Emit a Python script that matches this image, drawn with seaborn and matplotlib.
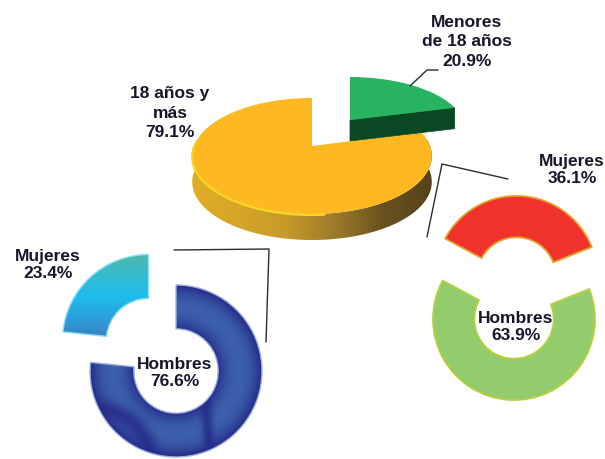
import numpy as np
import matplotlib
matplotlib.use('Agg')
import matplotlib.pyplot as plt
import matplotlib.transforms as mtransforms
from matplotlib.colors import LinearSegmentedColormap
from matplotlib.patches import Polygon
import seaborn as sns

# Values
age_labels = ['18 años y\nmás', 'Menores\nde 18 años']
age_values = [79.1, 20.9]
adult_labels = ['Hombres', 'Mujeres']
adult_values = [76.6, 23.4]
minor_labels = ['Hombres', 'Mujeres']
minor_values = [63.9, 36.1]

sns.set_style('white')
plt.rcParams['font.family'] = ['Liberation Sans', 'DejaVu Sans']

orange, green = sns.color_palette(['#FDB822', '#27B35F'])
TEXT = '#16162a'
LINE = '#2b2b2b'


class Projection(mtransforms.Transform):
    # unit pie -> picture pixels, p gives the perspective of the tilted disc
    input_dims = 2
    output_dims = 2

    def __init__(self, cx, cy, a, b, p=0.0):
        super().__init__()
        self.cx, self.cy, self.a, self.b, self.p = cx, cy, a, b, p

    def transform_non_affine(self, values):
        values = np.asarray(values, dtype=float)
        w = 1 + self.p * values[:, 1]
        return np.column_stack([self.cx + self.a * values[:, 0] / w,
                                self.cy - self.b * values[:, 1] / w])


def place(wedges, proj, zorder=1):
    for w in wedges:
        w.set_transform(proj + ax.transData)
        w.set_zorder(zorder)


def paint(artist_path, artist_transform, data, cmap, extent, zorder=0.5, vmin=0, vmax=1):
    im = ax.imshow(data, cmap=cmap, extent=extent, aspect='auto', origin='upper',
                   interpolation='bilinear', vmin=vmin, vmax=vmax, zorder=zorder)
    im.set_clip_path(artist_path, artist_transform)
    return im


fig = plt.figure(figsize=(6.05, 4.59), dpi=100)
ax = fig.add_axes([0, 0, 1, 1])

# Main 3D pie: side first, then the faces
main_proj = Projection(312, 146, 118, 56.3, 0.172)
end_angle = np.radians(90 + 3.6 * age_values[0])
t = np.radians(np.linspace(170, 370, 120))
rim = main_proj.transform(np.column_stack([np.cos(t), np.sin(t)]))
depth = 26
side = Polygon(np.vstack([rim, rim[::-1] + [0, depth]]), closed=True, transform=ax.transData,
               facecolor='none', edgecolor='none')
ax.add_patch(side)
side_cmap = LinearSegmentedColormap.from_list(
    'side', ['#E2AE26', '#D6A528', '#C69A2B', '#9C7C2A', '#6A5220', '#57431A'])
paint(side.get_path(), side.get_transform(), np.linspace(0, 1, 200)[None, :], side_cmap, (188, 432, 250, 140))

wedges, _ = ax.pie(age_values, colors=[orange, 'none'], startangle=90, labeldistance=None,
                   wedgeprops={'linewidth': 0})
place(wedges, main_proj, zorder=1)
t_left = np.radians(np.linspace(176, 275, 60))
left_rim = main_proj.transform(np.column_stack([np.cos(t_left), np.sin(t_left)]))
ax.plot(left_rim[:, 0], left_rim[:, 1] + 1, color='#F6D61E', lw=1.6, zorder=1.2)

# Pulled out slice of the main pie
slice_proj = Projection(350, 120, 113, 50.4, 0.172)
tip = slice_proj.transform(np.array([[np.cos(end_angle), np.sin(end_angle)], [0.0, 0.0]]))
slice_depth = 21
ax.add_patch(Polygon(np.vstack([tip, tip[::-1] + [0, slice_depth]]), closed=True,
                     facecolor='#0A4823', edgecolor='#0A4823', lw=0.5, zorder=1.5))
wedges, _ = ax.pie(age_values, colors=['none', green], startangle=90, labeldistance=None,
                   wedgeprops={'linewidth': 0})
place(wedges, slice_proj, zorder=2)

# Left doughnut
blue_proj = Projection(176, 371, 86, 86)
wedges, _ = ax.pie(adult_values, explode=[0, 0.477], startangle=90, counterclock=False,
                   colors=['none', 'none'], labeldistance=None,
                   wedgeprops={'width': 0.51, 'linewidth': 1.0})
place(wedges, blue_proj, zorder=2)
wedges[0].set_edgecolor('#9fb4dc')
wedges[1].set_edgecolor('#8FDDF5')

xx, yy = np.meshgrid(np.linspace(85, 267, 240), np.linspace(280, 462, 240))
rr = np.hypot(xx - 176, yy - 371) / 86
shade = np.clip(1 - (np.abs(rr - 0.74) / 0.26) ** 2, 0, 1)
shade *= 1 - 0.85 * np.exp(-((np.hypot(xx - 98, yy - 462) - 52) / 9) ** 2)
shade *= 1 - 0.85 * np.exp(-((xx - 208 - (yy - 430) * 0.1) / 6) ** 2) * (yy > 375)
blue_cmap = LinearSegmentedColormap.from_list('blue', ['#262B8A', '#3C60AB'])
paint(wedges[0].get_path(), wedges[0].get_transform(), shade, blue_cmap, (85, 267, 462, 280))

cyan_cmap = LinearSegmentedColormap.from_list('cyan', ['#52B8A6', '#35BCCF', '#1EBDEE', '#2CA0DC', '#3C7CC0'])
paint(wedges[1].get_path(), wedges[1].get_transform(), np.linspace(0, 1, 100)[:, None],
      cyan_cmap, (55, 155, 340, 253))

# Right doughnut
green_proj = Projection(514, 319, 81, 81)
wedges, _ = ax.pie(minor_values, explode=[0, 0.52], startangle=21.7, counterclock=False,
                   colors=['#92CC6C', '#F0312C'], labeldistance=None,
                   wedgeprops={'width': 0.51, 'linewidth': 1.3})
place(wedges, green_proj, zorder=2)
wedges[0].set_edgecolor('#B9CF3E')
wedges[1].set_edgecolor('#E3A02A')

# Connector lines
ax.plot([174, 269, 266], [250, 249, 342], color=LINE, lw=1.0, zorder=3)
ax.plot([427, 442, 508], [237, 164, 179], color=LINE, lw=1.0, zorder=3)
ax.plot([410, 427, 438], [86, 70, 70], color=LINE, lw=1.0, zorder=3)

# Labels
font = dict(fontsize=12.5, fontweight='bold', color=TEXT, ha='center', va='center', zorder=4)
ax.text(467, 42, f'{age_labels[1]}\n{age_values[1]}%', linespacing=1.36, **font)
ax.text(170, 113, f'{age_labels[0]}\n{age_values[0]}%', linespacing=1.36, **font)
ax.text(48, 265, f'{adult_labels[1]}\n{adult_values[1]}%', linespacing=1.2, **font)
ax.text(175, 373, f'{adult_labels[0]}\n{adult_values[0]}%', linespacing=1.2, **font)
ax.text(572, 170, f'{minor_labels[1]}\n{minor_values[1]}%', linespacing=1.2, **font)
ax.text(516, 327, f'{minor_labels[0]}\n{minor_values[0]}%', linespacing=1.2, **font)

ax.set_aspect('auto')
ax.set_xlim(0, 605)
ax.set_ylim(459, 0)
ax.axis('off')

fig.savefig('out.png', dpi=100)
plt.close(fig)
